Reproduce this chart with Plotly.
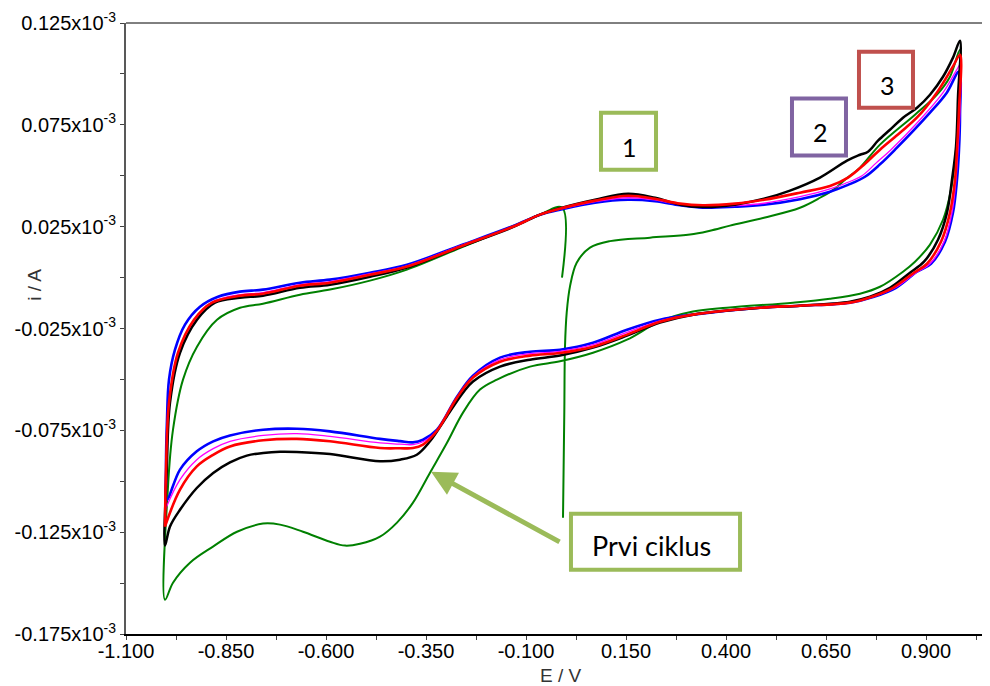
import plotly.graph_objects as go

# ---------------- data: (E / V, i / 1e-3 A) ----------------
GREEN = [  # first cycle
    (-0.0075, -0.1179), (-0.00425, -0.0663), (-0.0025, -0.0338), (0.00175, -0.0172), (0.01, -0.0043),
    (0.02675, 0.0073), (0.06, 0.0147), (0.11, 0.0179), (0.21, 0.0196), (0.31, 0.0211), (0.36, 0.0230),
    (0.41, 0.0255), (0.495, 0.0294), (0.585, 0.0343), (0.635, 0.0392), (0.6725, 0.0437), (0.6975, 0.0481),
    (0.735, 0.0540), (0.785, 0.0653), (0.8725, 0.0800), (0.9275, 0.0898), (0.96, 0.0986), (0.985, 0.1119),
    (0.9825, 0.0873), (0.975, 0.0628), (0.9625, 0.0432), (0.9425, 0.0284), (0.91, 0.0162), (0.8725, 0.0078),
    (0.8425, 0.0029), (0.785, -0.0045), (0.735, -0.0079), (0.66, -0.0104), (0.5675, -0.0123), (0.4025, -0.0148),
    (0.3175, -0.0167), (0.235, -0.0215), (0.1525, -0.0305), (0.0675, -0.0369), (-0.015, -0.0411), (-0.09, -0.0437),
    (-0.1725, -0.0501), (-0.215, -0.0550), (-0.2575, -0.0663), (-0.2975, -0.0811), (-0.34, -0.0958),
    (-0.3825, -0.1105), (-0.4225, -0.1203), (-0.465, -0.1272), (-0.515, -0.1307), (-0.5525, -0.1316),
    (-0.59, -0.1297), (-0.6575, -0.1248), (-0.715, -0.1213), (-0.7575, -0.1208), (-0.8225, -0.1248),
    (-0.8825, -0.1321), (-0.94, -0.1400), (-0.9825, -0.1498), (-1.0025, -0.1582),
    (-0.995, -0.1027), (-0.9825, -0.0747), (-0.9575, -0.0501), (-0.9225, -0.0339), (-0.8725, -0.0207),
    (-0.815, -0.0148), (-0.7575, -0.0128), (-0.665, -0.0084), (-0.59, -0.0059), (-0.49, -0.0015),
    (-0.3975, 0.0039), (-0.2625, 0.0147), (-0.13, 0.0255), (-0.065, 0.0309), (-0.01, 0.0343), (-0.01, 0.0),
]

BLACK = [
    (-1.0025, -0.1316), (-0.998, -0.0943), (-0.99, -0.0614), (-0.965, -0.0369), (-0.9225, -0.0207),
    (-0.8775, -0.0123), (-0.815, -0.0099), (-0.7575, -0.0089), (-0.665, -0.0050), (-0.59, -0.0035),
    (-0.49, 0.0004), (-0.3975, 0.0049), (-0.2625, 0.0152), (-0.13, 0.0250), (-0.065, 0.0309), (-0.01, 0.0343),
    (0.0725, 0.0382), (0.155, 0.0412), (0.2225, 0.0392), (0.285, 0.0358), (0.3425, 0.0346), (0.4225, 0.0358),
    (0.495, 0.0387), (0.56, 0.0427), (0.635, 0.0491), (0.7025, 0.0574), (0.735, 0.0603), (0.755, 0.0618),
    (0.78, 0.0672), (0.81, 0.0726), (0.8425, 0.0785), (0.8775, 0.0834), (0.91, 0.0898), (0.9425, 0.0986),
    (0.9675, 0.1080), (0.985, 0.1163),
    (0.98, 0.0888), (0.975, 0.0643), (0.965, 0.0481), (0.9525, 0.0319), (0.93, 0.0186), (0.895, 0.0078),
    (0.86, 0.0024), (0.81, -0.0050), (0.76, -0.0094), (0.71, -0.0118), (0.585, -0.0138), (0.485, -0.0148),
    (0.3175, -0.0182), (0.235, -0.0221), (0.1525, -0.0285), (0.0675, -0.0344), (-0.015, -0.0383),
    (-0.09, -0.0403), (-0.165, -0.0437), (-0.2325, -0.0510), (-0.2575, -0.0565), (-0.298, -0.0682),
    (-0.34, -0.0804), (-0.373, -0.0870), (-0.415, -0.0894), (-0.465, -0.0902), (-0.59, -0.0866),
    (-0.673, -0.0856), (-0.715, -0.0855), (-0.757, -0.0861), (-0.798, -0.0874), (-0.84, -0.0907),
    (-0.882, -0.0959), (-0.923, -0.1033), (-0.965, -0.1140), (-0.99, -0.1222), (-1.0025, -0.1316),
]

RED = [
    (-1.0025, -0.1223), (-1.0, -0.0943), (-0.9925, -0.0614), (-0.97, -0.0369), (-0.93, -0.0207),
    (-0.885, -0.0123), (-0.815, -0.0089), (-0.7575, -0.0079), (-0.665, -0.0040), (-0.59, -0.0025),
    (-0.49, 0.0014), (-0.3975, 0.0054), (-0.2625, 0.0154), (-0.13, 0.0252), (-0.065, 0.0309), (-0.01, 0.0341),
    (0.0725, 0.0378), (0.155, 0.0402), (0.2225, 0.0387), (0.285, 0.0363), (0.3425, 0.0355), (0.4225, 0.0363),
    (0.495, 0.0382), (0.585, 0.0417), (0.66, 0.0450), (0.705, 0.0491), (0.7475, 0.0559), (0.785, 0.0628),
    (0.835, 0.0711), (0.88, 0.0791), (0.927, 0.0908), (0.9675, 0.1037), (0.985, 0.1094),
    (0.9825, 0.0824), (0.9775, 0.0628), (0.9725, 0.0481), (0.96, 0.0319), (0.9375, 0.0176), (0.9025, 0.0068),
    (0.87, 0.0024), (0.8175, -0.0050), (0.765, -0.0094), (0.71, -0.0123), (0.585, -0.0138), (0.485, -0.0148),
    (0.3175, -0.0182), (0.235, -0.0217), (0.1525, -0.0280), (0.0675, -0.0339), (-0.015, -0.0370),
    (-0.09, -0.0383), (-0.165, -0.0413), (-0.2325, -0.0491), (-0.2725, -0.0590), (-0.3225, -0.0752),
    (-0.3575, -0.0820), (-0.3825, -0.0837), (-0.415, -0.0838), (-0.465, -0.0837), (-0.59, -0.0804),
    (-0.673, -0.0792), (-0.757, -0.0799), (-0.84, -0.0829), (-0.882, -0.0870), (-0.923, -0.0927),
    (-0.965, -0.1041), (-1.0025, -0.1222),
]

MAGENTA = [
    (-1.0, -0.1140), (-0.9975, -0.0943), (-0.99125, -0.0614), (-0.96875, -0.0369), (-0.9275, -0.0207),
    (-0.8825, -0.0118), (-0.815, -0.0084), (-0.7575, -0.0074), (-0.665, -0.0035), (-0.59, -0.0020),
    (-0.49, 0.0019), (-0.3975, 0.0058), (-0.2625, 0.0157), (-0.13, 0.0252), (-0.065, 0.0309), (-0.01, 0.0338),
    (0.0725, 0.0373), (0.155, 0.0392), (0.2225, 0.0382), (0.285, 0.0358), (0.3425, 0.0348), (0.4225, 0.0353),
    (0.495, 0.0365), (0.585, 0.0397), (0.66, 0.0435), (0.6975, 0.0462), (0.74, 0.0500), (0.775, 0.0562),
    (0.8125, 0.0628), (0.885, 0.0775), (0.9425, 0.0908), (0.977, 0.1021), (0.985, 0.1045),
    (0.985, 0.0824), (0.98, 0.0628), (0.975, 0.0481), (0.965, 0.0319), (0.945, 0.0176), (0.91, 0.0068),
    (0.875, 0.0024), (0.8225, -0.0050), (0.7675, -0.0094), (0.71, -0.0123), (0.585, -0.0138), (0.485, -0.0148),
    (0.3175, -0.0182), (0.235, -0.0212), (0.1525, -0.0269), (0.0675, -0.0329), (-0.015, -0.0362),
    (-0.09, -0.0374), (-0.165, -0.0403), (-0.2325, -0.0487), (-0.2725, -0.0590), (-0.3225, -0.0752),
    (-0.3575, -0.0806), (-0.3825, -0.0820), (-0.415, -0.0818), (-0.465, -0.0812), (-0.59, -0.0780),
    (-0.673, -0.0766), (-0.757, -0.0775), (-0.84, -0.0804), (-0.882, -0.0840), (-0.923, -0.0894),
    (-0.965, -0.0992), (-1.0, -0.1131),
]

BLUE = [
    (-0.998, -0.1091), (-1.0, -0.0928), (-0.9975, -0.0698), (-0.9925, -0.0501), (-0.9775, -0.0354),
    (-0.9525, -0.0231), (-0.915, -0.0143), (-0.87, -0.0094), (-0.815, -0.0069), (-0.7575, -0.0059),
    (-0.665, -0.0025), (-0.59, -0.0010), (-0.49, 0.0024), (-0.3975, 0.0063), (-0.2625, 0.0159), (-0.13, 0.0255),
    (-0.065, 0.0309), (-0.01, 0.0336), (0.0725, 0.0368), (0.155, 0.0382), (0.2225, 0.0375), (0.285, 0.0355),
    (0.3425, 0.0343), (0.4225, 0.0348), (0.495, 0.0358), (0.585, 0.0385), (0.66, 0.0422), (0.705, 0.0455),
    (0.7475, 0.0495), (0.785, 0.0556), (0.8225, 0.0628), (0.91, 0.0810), (0.952, 0.0908), (0.9825, 0.1011),
    (0.985, 0.0800), (0.9825, 0.0628), (0.9775, 0.0481), (0.9675, 0.0319), (0.9475, 0.0176), (0.9125, 0.0068),
    (0.8775, 0.0029), (0.825, -0.0050), (0.77, -0.0094), (0.71, -0.0123), (0.585, -0.0138), (0.485, -0.0148),
    (0.3175, -0.0182), (0.235, -0.0207), (0.1525, -0.0256), (0.0675, -0.0320), (-0.015, -0.0354),
    (-0.09, -0.0364), (-0.165, -0.0393), (-0.2325, -0.0482), (-0.2725, -0.0585), (-0.3225, -0.0747),
    (-0.3575, -0.0796), (-0.3825, -0.0809), (-0.415, -0.0803), (-0.465, -0.0792), (-0.59, -0.0755),
    (-0.673, -0.0742), (-0.757, -0.0747), (-0.84, -0.0775), (-0.882, -0.0804), (-0.923, -0.0853),
    (-0.965, -0.0943), (-0.998, -0.1091),
]

X_TICKVALS = [-1.1, -0.85, -0.6, -0.35, -0.1, 0.15, 0.4, 0.65, 0.9]
X_TICKTEXT = ["-1.100", "-0.850", "-0.600", "-0.350", "-0.100", "0.150", "0.400", "0.650", "0.900"]
X_MINOR = [-0.975, -0.725, -0.475, -0.225, 0.025, 0.275, 0.525, 0.775, 1.025]
Y_TICKVALS = [-0.175, -0.125, -0.075, -0.025, 0.025, 0.075, 0.125]
Y_TICKTEXT = ["-0.175x10<sup>-3</sup>", "-0.125x10<sup>-3</sup>", "-0.075x10<sup>-3</sup>",
              "-0.025x10<sup>-3</sup>", "0.025x10<sup>-3</sup>", "0.075x10<sup>-3</sup>",
              "0.125x10<sup>-3</sup>"]
Y_MINOR = [-0.15, -0.1, -0.05, 0.0, 0.05, 0.1]

SERIES = [
    ("Prvi ciklus", GREEN, "#008000", 2.0),
    ("blue", BLUE, "#0000ff", 2.6),
    ("magenta", MAGENTA, "#ff00ff", 1.3),
    ("black", BLACK, "#000000", 2.5),
    ("red", RED, "#ff0000", 2.6),
]

fig = go.Figure()
for name, pts, color, width in SERIES:
    fig.add_trace(go.Scatter(
        x=[p[0] for p in pts], y=[p[1] for p in pts], mode="lines", name=name,
        line=dict(color=color, width=width, shape="spline", smoothing=1.0),
        showlegend=False, hoverinfo="skip"))

# the page places the figure 8 px from the top-left corner, so the figure is 8 px smaller
fig.update_layout(
    width=982, height=678,
    margin=dict(l=118, r=4, t=15, b=52, autoexpand=False),
    plot_bgcolor="white", paper_bgcolor="white",
    font=dict(family="Liberation Sans", size=20, color="black"),
)
fig.update_xaxes(
    range=[-1.1, 1.05], tickmode="array", tickvals=X_TICKVALS, ticktext=X_TICKTEXT,
    ticks="outside", ticklen=4, tickwidth=1, tickcolor="#404040", automargin=False,
    tickfont=dict(family="Liberation Sans", size=20, color="black"), ticklabelstandoff=-6,
    showline=True, linecolor="black", linewidth=2, showgrid=False, zeroline=False,
    minor=dict(tickmode="array", tickvals=X_MINOR, ticks="outside", ticklen=4, tickcolor="#404040", showgrid=False),
)
fig.update_yaxes(
    range=[-0.175, 0.125], tickmode="array", tickvals=Y_TICKVALS, ticktext=Y_TICKTEXT,
    ticks="outside", ticklen=4, tickwidth=1, tickcolor="#404040", automargin=False,
    tickfont=dict(family="Liberation Sans", size=20, color="black"),
    showline=True, linecolor="#595959", linewidth=2, showgrid=False, zeroline=False,
    minor=dict(tickmode="array", tickvals=Y_MINOR, ticks="outside", ticklen=4, tickcolor="#404040", showgrid=False),
)

# top border line
fig.add_shape(type="line", xref="paper", yref="paper", x0=0, x1=1.005, y0=1, y1=1,
              line=dict(color="black", width=1))

# annotation boxes
BOXES = [
    (0.5523, 0.6163, 0.7599, 0.8532, "#9bbb59"),
    (0.7744, 0.8372, 0.7833, 0.8765, "#8064a2"),
    (0.8523, 0.9151, 0.8614, 0.9530, "#c0504d"),
    (0.5174, 0.7140, 0.1053, 0.1969, "#9bbb59"),
]
for x0, x1, y0, y1, c in BOXES:
    fig.add_shape(type="rect", xref="paper", yref="paper", x0=x0, x1=x1, y0=y0, y1=y1,
                  line=dict(color=c, width=4), fillcolor="rgba(0,0,0,0)")

LABELS = [("1", 0.5860, 0.7976, 25), ("2", 0.8081, 0.8221, 25), ("3", 0.8860, 0.8990, 25),
          ("Prvi ciklus", 0.6116, 0.1445, 27)]
for t, x, y, s in LABELS:
    fig.add_annotation(text=t, x=x, y=y, xref="paper", yref="paper", showarrow=False,
                       font=dict(family="Lato", size=s, color="black"),
                       xanchor="center", yanchor="middle")

# arrow toward the first cycle
fig.add_annotation(text="", x=0.3547, y=0.2656, xref="paper", yref="paper",
                   ax=130, ay=71, axref="pixel", ayref="pixel", showarrow=True,
                   arrowhead=2, arrowsize=1.0, arrowwidth=5, arrowcolor="#9bbb59", standoff=0)

# axis titles
fig.add_annotation(text="i / A", x=-0.1058, y=0.5717, xref="paper", yref="paper", showarrow=False,
                   textangle=-90, font=dict(family="Liberation Sans", size=19, color="#333333"),
                   xanchor="center", yanchor="middle")
fig.add_annotation(text="E / V", x=0.5058, y=-0.0682, xref="paper", yref="paper", showarrow=False,
                   font=dict(family="Liberation Sans", size=19, color="#333333"),
                   xanchor="center", yanchor="middle")

fig.write_html("out.html")
